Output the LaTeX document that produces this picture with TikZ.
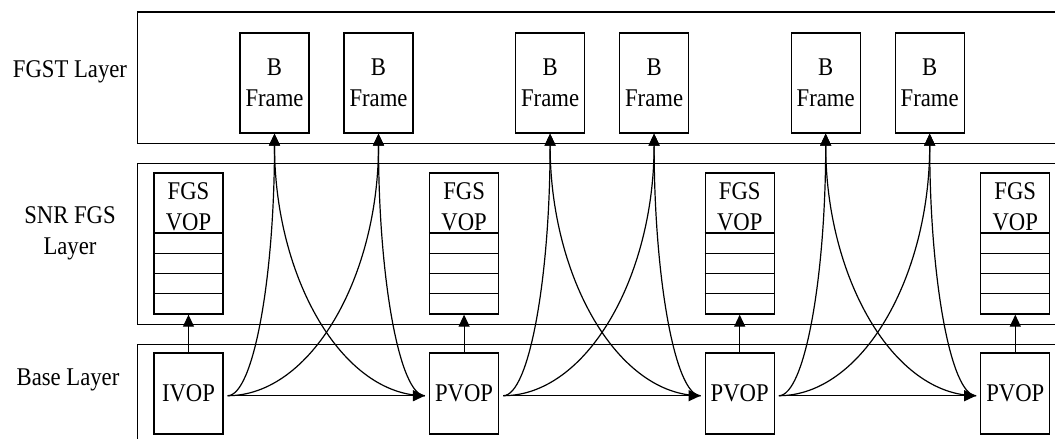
\documentclass[tikz,border=0pt]{standalone}
\usepackage{fontspec}
\setmainfont{Liberation Serif}[FakeStretch=0.89]
\usetikzlibrary{arrows.meta,calc}

% quarter-ellipse connector: leaves #1 horizontally, reaches #2 vertically
\newcommand\qarc[2]{%
  \draw[arr] (#1) .. controls ($(#1)!0.55!(#1 -| #2)$) and ($(#2)!0.55!(#2 |- #1)$) .. (#2);}

\begin{document}
\begin{tikzpicture}[x=1pt,y=-1pt,
  every node/.style={font=\fontsize{25.5}{31.5}\selectfont, inner sep=0pt, align=center},
  layer/.style={draw, line width=1.3pt, anchor=north west, minimum width=940pt},
  box/.style={draw, line width=1.3pt, minimum width=69pt},
  vop/.style={box, minimum height=81pt},
  fgsbox/.style={box, minimum height=141pt},
  bframe/.style={box, minimum height=100pt},
  arr/.style={line width=1.2pt, -{Triangle[length=12pt,width=11pt]}},
  rowline/.style={line width=1.3pt}]

\useasboundingbox (0,0) rectangle (1055,439);
\clip (0,0) rectangle (1055,439);

% the three layers
\node[layer, minimum height=131pt] (fgstlayer) at (137,12) {};
\draw[line width=2pt] (fgstlayer.north west) -- (fgstlayer.north east);
\node[layer, minimum height=161pt] (snrlayer) at (137,163) {};
\node[layer, minimum height=120pt] (baselayer) at (137,344) {};

% layer names
\node[anchor=base] (lfgst) at (70,77.3) {FGST Layer};
\node (lsnr) at (70,233.4) {SNR FGS\\Layer};
\node[anchor=base] (lbase) at (68,385) {Base Layer};

% base-layer VOPs with their FGS enhancement VOPs
\foreach \i/\x/\lab in {0/154/IVOP,1/429.6/PVOP,2/705.2/PVOP,3/980.8/PVOP}{
  \node[vop] (base\i) at (\x+34.5,393.5) {\lab};
  \node[fgsbox] (fgs\i) at (\x+34.5,243.5) {};
  \node (fgstext\i) at (\x+34.5,206.5) {FGS\\VOP};
  \foreach \y in {233,253.25,273.5,293.75}
    \draw[rowline] (fgs\i.west |- 0,\y) -- (fgs\i.east |- 0,\y);
  \draw[arr] (base\i.north) -- (fgs\i.south);
  \coordinate (out\i) at ($(base\i.east)+(4,2.2)$);
  \coordinate (in\i) at ($(base\i.west)+(-4,2.2)$);
}

% B frames of the FGST layer between consecutive base VOPs
\foreach \i/\x in {0/154,1/429.6,2/705.2}{
  \node[bframe] (ba\i) at (\x+120.5,83) {B\\Frame};
  \node[bframe] (bb\i) at (\x+224.5,83) {B\\Frame};
}

% prediction links
\foreach \i/\j in {0/1,1/2,2/3}{
  \draw[arr] (out\i) -- (in\j);
  \qarc{out\i}{ba\i.south}
  \qarc{out\i}{bb\i.south}
  \qarc{in\j}{ba\i.south}
  \qarc{in\j}{bb\i.south}
}
\end{tikzpicture}
\end{document}
